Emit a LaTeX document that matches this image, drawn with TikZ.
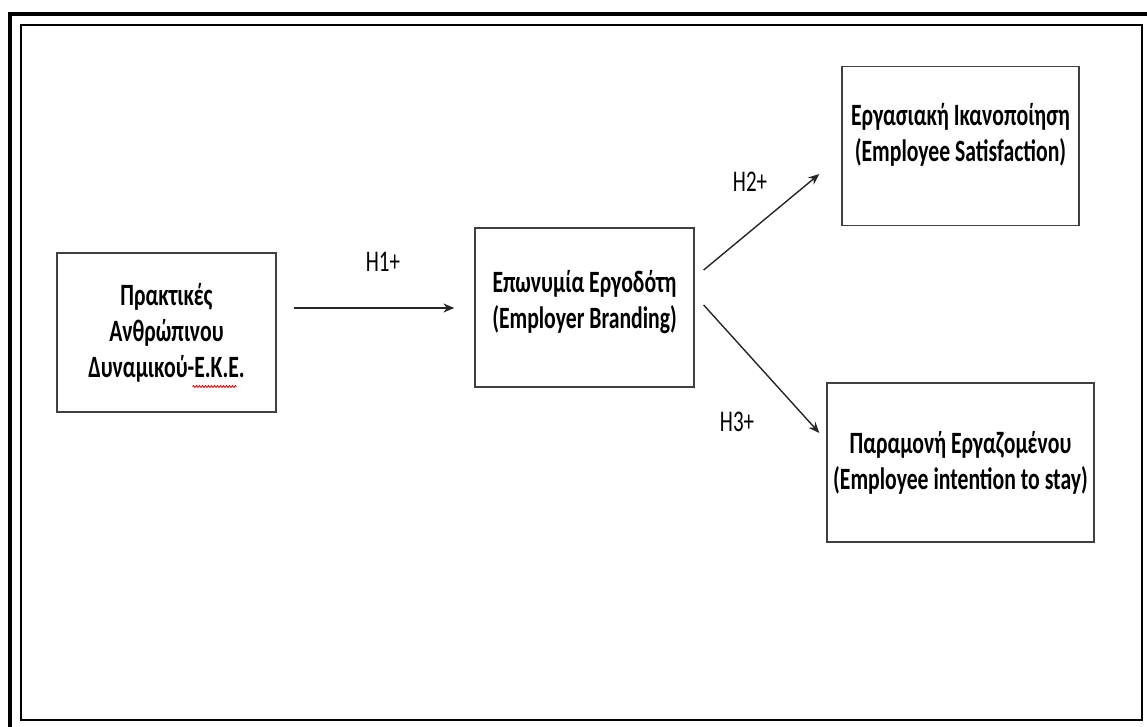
\documentclass[tikz,border=0pt]{standalone}
\usepackage{fontspec}
\setmainfont{Carlito}[FakeStretch=0.7]
\usetikzlibrary{arrows.meta,decorations.pathmorphing}
\begin{document}
\begin{tikzpicture}[x=1pt,y=-1pt,
    box/.style={draw=black!75, line width=1.3pt, align=center, inner sep=0pt,
      minimum height=159pt, font=\bfseries\fontsize{31}{36}\selectfont},
    hyp/.style={font=\fontsize{30}{36}\selectfont},
    arrow/.style={-{Stealth[length=11pt,width=9pt]}, line width=1.4pt, draw=black!85}]
    \useasboundingbox (0,0) rectangle (1147,727);
    % frames
    \draw[line width=4pt] (10,727) -- (10,14) -- (1147,14);
    \draw[line width=2.2pt] (21,25) rectangle (1142,720);

    \node[box, minimum width=219pt] (1) at (166.5,332.5) {Πρακτικές\\Ανθρώπινου\\Δυναμικού-Ε.Κ.Ε.};
    \node[box, minimum width=219pt] (2) at (584.5,307.5) {Επωνυμία Εργοδότη\\(Employer Branding)\\[-20pt]};
    \node[box, minimum width=237pt] (3) at (960.5,146) {Εργασιακή Ικανοποίηση\\(Employee Satisfaction)\\[-8pt]};
    \node[box, minimum width=267pt] (4) at (960.5,462.5) {Παραμονή Εργαζομένου\\(Employee intention to stay)};

    \node[hyp] (h1) at (383,262) {H1+};
    \node[hyp] (h2) at (750,182) {H2+};
    \node[hyp] (h3) at (737,422) {H3+};

    \draw[arrow] ([shift={(17,-24.5)}]1.east) -- ([shift={(-20,0.5)}]2.west);
    \draw[arrow] ([shift={(9,-37.5)}]2.east) -- ([shift={(-22,28)}]3.west);
    \draw[arrow] ([shift={(9,-2.5)}]2.east) -- ([shift={(-7,-29.5)}]4.west);

    % spelling underline
    \draw[red, line width=0.8pt, decorate, decoration={snake, amplitude=1pt, segment length=3pt}]
      ([shift={(26,54)}]1.center) -- ([shift={(70,54)}]1.center);
\end{tikzpicture}
\end{document}
